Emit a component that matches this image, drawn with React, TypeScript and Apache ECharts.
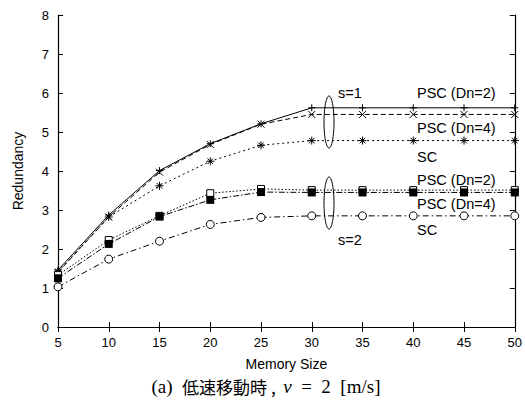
import React, { useEffect, useRef } from "react";
import * as echarts from "echarts";

const memorySizes = [5, 10, 15, 20, 25, 30, 35, 40, 45, 50];
const s1PscDn2 = [1.46, 2.87, 4.01, 4.7, 5.21, 5.62, 5.62, 5.62, 5.62, 5.62];
const s1PscDn4 = [1.4, 2.82, 3.97, 4.68, 5.2, 5.45, 5.45, 5.45, 5.45, 5.45];
const s1Sc = [1.42, 2.82, 3.62, 4.25, 4.66, 4.78, 4.78, 4.78, 4.78, 4.78];
const s2PscDn2 = [1.33, 2.23, 2.85, 3.43, 3.54, 3.51, 3.51, 3.51, 3.51, 3.51];
const s2PscDn4 = [1.25, 2.13, 2.83, 3.26, 3.46, 3.45, 3.45, 3.45, 3.45, 3.45];
const s2Sc = [1.03, 1.74, 2.2, 2.63, 2.81, 2.85, 2.85, 2.85, 2.85, 2.85];
const yTicks = [0, 1, 2, 3, 4, 5, 6, 7, 8];

const PLUS = "path://M0,5L10,5M5,0L5,10";
const CROSS = "path://M0,0L10,10M10,0L0,10";
const STAR = "path://M0,5L10,5M5,0L5,10M1.5,1.5L8.5,8.5M8.5,1.5L1.5,8.5";

const FONT = "'Liberation Sans', Arial, sans-serif";
const SERIF = "'Liberation Serif', 'DejaVu Serif', serif";

function mk(vals: number[]) {
  return memorySizes.map((x, i) => [x, vals[i]]);
}

export default function App() {
  const ref = useRef<HTMLDivElement>(null);
  useEffect(() => {
    if (!ref.current) return;
    const chart = echarts.init(ref.current, undefined, { renderer: "svg" });
    const strokeSym = { color: "none", borderColor: "#000", borderWidth: 1 };
    const line = (
      name: string,
      vals: number[],
      type: any,
      symbol: string,
      size: number,
      itemStyle: any,
      width = 1
    ) => ({
      name,
      type: "line",
      data: mk(vals),
      symbol,
      symbolSize: size,
      showSymbol: true,
      lineStyle: { color: "#000", width, type },
      itemStyle,
      z: 3,
    });
    const lbl = (text: string, x: number, y: number) => ({
      type: "text",
      x,
      y,
      style: { text, font: `14.5px ${FONT}`, fill: "#000", verticalAlign: "middle" },
      z: 10,
    });
    chart.setOption({
      animation: false,
      backgroundColor: "#fff",
      grid: { left: 58, right: 10, top: 15, bottom: 79 },
      xAxis: [
        {
          type: "value",
          min: 5,
          max: 50,
          interval: 5,
          name: "Memory Size",
          nameLocation: "middle",
          nameGap: 30,
          nameTextStyle: { fontFamily: FONT, fontSize: 14, color: "#000" },
          axisLine: { show: true, lineStyle: { color: "#000", width: 1.2 } },
          axisTick: { inside: true, length: 5, lineStyle: { color: "#000" } },
          axisLabel: { fontFamily: FONT, fontSize: 13, color: "#000", margin: 9 },
          splitLine: { show: false },
        },
        {
          type: "value",
          position: "top",
          min: 5,
          max: 50,
          interval: 5,
          axisLine: { show: true, lineStyle: { color: "#000", width: 1.2 } },
          axisTick: { inside: true, length: 5, lineStyle: { color: "#000" } },
          axisLabel: { show: false },
          splitLine: { show: false },
        },
      ],
      yAxis: [
        {
          type: "value",
          min: 0,
          max: 8,
          interval: 1,
          name: "Redundancy",
          nameLocation: "middle",
          nameGap: 33,
          nameTextStyle: { fontFamily: FONT, fontSize: 14, color: "#000" },
          axisLine: { show: true, lineStyle: { color: "#000", width: 1.2 } },
          axisTick: { inside: true, length: 5, lineStyle: { color: "#000" } },
          axisLabel: {
            fontFamily: FONT,
            fontSize: 13,
            color: "#000",
            margin: 9,
            formatter: (v: number) => (yTicks.includes(v) ? String(v) : ""),
          },
          splitLine: { show: false },
        },
        {
          type: "value",
          position: "right",
          min: 0,
          max: 8,
          interval: 1,
          axisLine: { show: true, lineStyle: { color: "#000", width: 1.2 } },
          axisTick: { inside: true, length: 5, lineStyle: { color: "#000" } },
          axisLabel: { show: false },
          splitLine: { show: false },
        },
      ],
      series: [
        line("s=1 PSC (Dn=2)", s1PscDn2, "solid", PLUS, 7, strokeSym),
        line("s=1 PSC (Dn=4)", s1PscDn4, [5, 3], CROSS, 7, strokeSym),
        line("s=1 SC", s1Sc, [2, 3], STAR, 8, strokeSym),
        line("s=2 PSC (Dn=2)", s2PscDn2, [1.5, 2], "rect", 7, {
          color: "#fff",
          borderColor: "#000",
          borderWidth: 1,
        }),
        line("s=2 PSC (Dn=4)", s2PscDn4, [6, 2, 1.5, 2], "rect", 8, {
          color: "#000",
          borderColor: "#000",
          borderWidth: 0,
        }),
        line("s=2 SC", s2Sc, [6, 3, 1.5, 3], "circle", 8, {
          color: "#fff",
          borderColor: "#000",
          borderWidth: 1,
        }),
      ],
      graphic: [
        { type: "ellipse", shape: { cx: 329, cy: 122, rx: 5, ry: 26 }, style: { fill: "none", stroke: "#000", lineWidth: 1 }, z: 10 },
        { type: "ellipse", shape: { cx: 329, cy: 203, rx: 5, ry: 26 }, style: { fill: "none", stroke: "#000", lineWidth: 1 }, z: 10 },
        lbl("s=1", 338, 93),
        lbl("s=2", 338, 240),
        lbl("PSC (Dn=2)", 417, 93),
        lbl("PSC (Dn=4)", 417, 128),
        lbl("SC", 417, 157),
        lbl("PSC (Dn=2)", 417, 180),
        lbl("PSC (Dn=4)", 417, 204),
        lbl("SC", 417, 230),
        {
          type: "text",
          x: 266,
          y: 386,
          style: {
            text: "{a|(a)  }{j|低速移動時 ,  }{i|v}{a|  =  2  [m/s]}",
            align: "center",
            verticalAlign: "middle",
            rich: {
              a: { fontFamily: SERIF, fontSize: 19, fill: "#000" },
              i: { fontFamily: SERIF, fontStyle: "italic", fontSize: 19, fill: "#000" },
              j: { fontFamily: "'Noto Sans CJK JP', sans-serif", fontSize: 17, fill: "#000" },
            },
          },
        },
      ],
    });
    return () => chart.dispose();
  }, []);
  return <div ref={ref} style={{ width: 525, height: 406, position: "absolute", left: 0, top: 0 }} />;
}
